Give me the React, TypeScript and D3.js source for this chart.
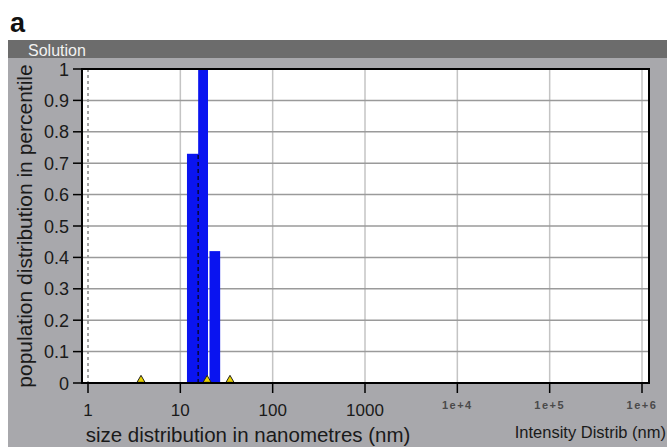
import React, { useEffect, useRef } from "react";
import * as d3 from "d3";

// histogram bins (nm) and heights
const binEdges = [11.8, 15.6, 20.7, 27.0];
const binValues = [0.73, 1.0, 0.42];
// small yellow markers on the baseline
const markerSizes = [3.75, 19.5, 34.5];
const yTicks = [0, 0.1, 0.2, 0.3, 0.4, 0.5, 0.6, 0.7, 0.8, 0.9, 1];
const xTicks = [1, 10, 100, 1000, 1e4, 1e5, 1e6];
const xTickLabels = ["1", "10", "100", "1000", "1e+4", "1e+5", "1e+6"];

const W = 667;
const H = 447;
const plot = { left: 82, right: 649, top: 69, bottom: 383 };

const App = () => {
  const ref = useRef<SVGSVGElement | null>(null);

  useEffect(() => {
    const svg = d3.select(ref.current);
    svg.selectAll("*").remove();
    const font = "Liberation Sans, Arial, sans-serif";

    const x = d3.scaleLog().domain([1, 1e6]).range([88, 642]);
    const y = d3.scaleLinear().domain([0, 1]).range([plot.bottom, plot.top]);

    svg.append("rect").attr("width", W).attr("height", H).attr("fill", "#fff");
    // grey panel + title bar
    svg.append("rect").attr("x", 8).attr("y", 40).attr("width", W - 8).attr("height", H - 40).attr("fill", "#a8a8ac");
    svg.append("rect").attr("x", 8).attr("y", 40).attr("width", W - 8).attr("height", 18).attr("fill", "#6c6c6c");
    svg.append("text").attr("x", 28).attr("y", 55.5).text("Solution")
      .attr("font-family", font).attr("font-size", 16).attr("fill", "#f2f2f2");

    svg.append("text").attr("x", 10).attr("y", 32).text("a")
      .attr("font-family", font).attr("font-size", 27).attr("font-weight", "bold").attr("fill", "#111");

    // plot background
    svg.append("rect").attr("x", plot.left).attr("y", plot.top)
      .attr("width", plot.right - plot.left).attr("height", plot.bottom - plot.top).attr("fill", "#fff");

    // vertical grid
    svg.append("g").selectAll("line").data(xTicks).enter().append("line")
      .attr("x1", (d) => x(d)).attr("x2", (d) => x(d))
      .attr("y1", plot.top).attr("y2", plot.bottom)
      .attr("stroke", (d) => (d === 1 ? "#888" : "#c4c4c4"))
      .attr("stroke-width", 1.5)
      .attr("stroke-dasharray", (d) => (d === 1 ? "3,3" : null));

    // horizontal grid
    svg.append("g").selectAll("line").data(yTicks.slice(1, -1)).enter().append("line")
      .attr("x1", plot.left).attr("x2", plot.right)
      .attr("y1", (d) => y(d)).attr("y2", (d) => y(d))
      .attr("stroke", "#9a9a9a").attr("stroke-width", 1.5);

    // bars
    const bins = binValues.map((v, i) => ({ x0: binEdges[i], x1: binEdges[i + 1], v }));
    svg.append("g").selectAll("rect").data(bins).enter().append("rect")
      .attr("x", (d) => x(d.x0))
      .attr("y", (d) => y(d.v))
      .attr("width", (d, i) => x(d.x1) - x(d.x0) + (i === 0 ? 1 : 0) - (i === 1 ? 1.5 : 0))
      .attr("height", (d) => y(0) - y(d.v))
      .attr("fill", "#0a14f0");

    // dashed line at the first bin boundary
    svg.append("line")
      .attr("x1", x(binEdges[1])).attr("x2", x(binEdges[1]))
      .attr("y1", y(0)).attr("y2", y(binValues[0]))
      .attr("stroke", "#06063a").attr("stroke-width", 1.5).attr("stroke-dasharray", "4,3");

    // markers
    const tri = d3.symbol().type(d3.symbolTriangle).size(28);
    svg.append("g").selectAll("path").data(markerSizes).enter().append("path")
      .attr("d", tri)
      .attr("transform", (d) => `translate(${x(d)},${y(0) - 3})`)
      .attr("fill", "#e8d200").attr("stroke", "#222").attr("stroke-width", 1);

    // frame
    svg.append("rect").attr("x", plot.left).attr("y", plot.top)
      .attr("width", plot.right - plot.left).attr("height", plot.bottom - plot.top)
      .attr("fill", "none").attr("stroke", "#000").attr("stroke-width", 2);

    // y ticks
    const yAxis = svg.append("g");
    yAxis.selectAll("line").data(yTicks).enter().append("line")
      .attr("x1", plot.left - 9).attr("x2", plot.left)
      .attr("y1", (d) => y(d)).attr("y2", (d) => y(d))
      .attr("stroke", "#000").attr("stroke-width", 1.5);
    yAxis.selectAll("text").data(yTicks).enter().append("text")
      .attr("x", plot.left - 13).attr("y", (d) => y(d) + 6.5)
      .attr("text-anchor", "end")
      .attr("font-family", font).attr("font-size", 18).attr("fill", "#1a1a1a")
      .text((d) => d3.format("~g")(d));

    // x ticks
    const xAxis = svg.append("g");
    xAxis.selectAll("line").data(xTicks).enter().append("line")
      .attr("x1", (d) => x(d)).attr("x2", (d) => x(d))
      .attr("y1", plot.bottom).attr("y2", plot.bottom + 10)
      .attr("stroke", "#000").attr("stroke-width", 1.5);
    xAxis.selectAll("text").data(xTicks).enter().append("text")
      .attr("x", (d) => x(d))
      .attr("y", (d, i) => (i < 4 ? 416 : 409))
      .attr("text-anchor", "middle")
      .attr("font-family", font)
      .attr("font-size", (d, i) => (i < 4 ? 17 : 11))
      .attr("font-weight", (d, i) => (i < 4 ? "normal" : "bold"))
      .attr("letter-spacing", (d, i) => (i < 4 ? null : 1.5))
      .attr("fill", (d, i) => (i < 4 ? "#1a1a1a" : "#4a4a4a"))
      .text((d, i) => xTickLabels[i]);

    // axis titles
    svg.append("text")
      .attr("transform", `translate(32,${(plot.top + plot.bottom) / 2}) rotate(-90)`)
      .attr("text-anchor", "middle")
      .attr("font-family", font).attr("font-size", 21).attr("fill", "#1a1a1a")
      .text("population distribution in percentile");
    svg.append("text")
      .attr("x", 248).attr("y", 442)
      .attr("text-anchor", "middle")
      .attr("font-family", font).attr("font-size", 20.5).attr("fill", "#1a1a1a")
      .text("size distribution in nanometres (nm)");
    svg.append("text")
      .attr("x", 666).attr("y", 438)
      .attr("text-anchor", "end")
      .attr("font-family", font).attr("font-size", 16.5).attr("fill", "#1a1a1a")
      .text("Intensity Distrib (nm)");
  }, []);

  return (
    <svg ref={ref} width={W} height={H} style={{ position: "absolute", left: 0, top: 0 }}></svg>
  );
};

export default App;
